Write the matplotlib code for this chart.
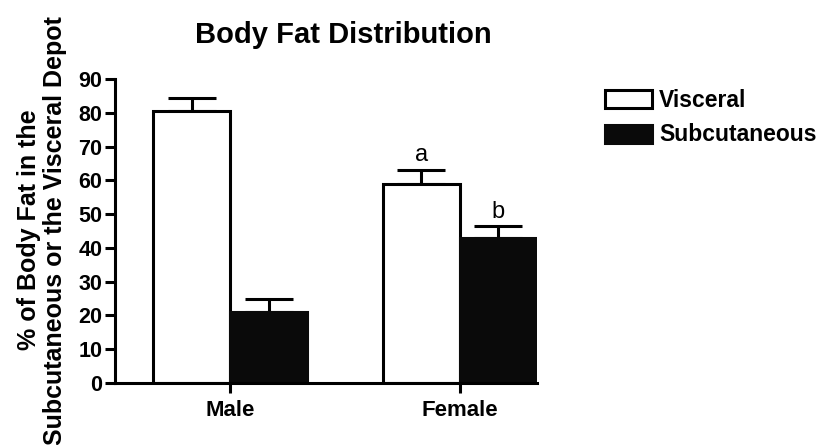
import matplotlib
matplotlib.use("Agg")
import matplotlib.pyplot as plt
from matplotlib.patches import Patch
import numpy as np

plt.rcParams['font.family'] = ['Liberation Sans', 'DejaVu Sans']

groups = ["Male", "Female"]
series = ["Visceral", "Subcutaneous"]
visceral = [80.6, 58.8]
visceral_err = [3.8, 4.4]
subcut = [21.1, 43.0]
subcut_err = [3.8, 3.5]
letters_visceral = ["", "a"]
letters_subcut = ["", "b"]

fig = plt.figure(figsize=(8.3, 4.45), dpi=100)
ax = fig.add_axes([0.1386, 0.1393, 0.647 - 0.1386, 0.8225 - 0.1393])

x = np.arange(len(groups))
w = 0.336
lw = 2.2

ax.bar(x - w / 2, visceral, w, color="white", edgecolor="black", linewidth=lw, zorder=2)
ax.bar(x + w / 2, subcut, w, color="#0a0a0a", edgecolor="#0a0a0a", linewidth=lw, zorder=2)
ax.errorbar(x - w / 2, visceral, yerr=[np.zeros(2), visceral_err], fmt="none",
            ecolor="black", elinewidth=lw, capsize=17.5, capthick=lw, zorder=1)
ax.errorbar(x + w / 2, subcut, yerr=[np.zeros(2), subcut_err], fmt="none",
            ecolor="black", elinewidth=lw, capsize=17.5, capthick=lw, zorder=1)

for i in range(len(groups)):
    if letters_visceral[i]:
        ax.text(x[i] - w / 2, visceral[i] + visceral_err[i] + 1.0, letters_visceral[i],
                ha="center", va="bottom", fontsize=17)
    if letters_subcut[i]:
        ax.text(x[i] + w / 2, subcut[i] + subcut_err[i] + 1.0, letters_subcut[i],
                ha="center", va="bottom", fontsize=17)

ax.set_xlim(-0.502, 1.336)
ax.set_ylim(0, 90)
ax.set_yticks(np.arange(0, 91, 10))
ax.set_xticks(x)
ax.set_xticklabels(groups, fontsize=16, fontweight="bold")
for lab in ax.get_yticklabels():
    lab.set_fontsize(15.5)
    lab.set_fontweight("bold")
ax.tick_params(axis="both", width=lw, length=7, pad=2)
ax.tick_params(axis="x", pad=5)
for s in ["top", "right"]:
    ax.spines[s].set_visible(False)
for s in ["left", "bottom"]:
    ax.spines[s].set_linewidth(lw)

ax.set_title("Body Fat Distribution", fontsize=21, fontweight="bold", x=0.54, pad=26)

fig.text(0.0345, 0.483, "% of Body Fat in the", rotation=90, ha="center", va="center",
         fontsize=18, fontweight="bold")
fig.text(0.0665, 0.483, "Subcutaneous or the Visceral Depot", rotation=90, ha="center",
         va="center", fontsize=18, fontweight="bold")

handles = [Patch(facecolor="white", edgecolor="black", linewidth=lw),
           Patch(facecolor="#0a0a0a", edgecolor="#0a0a0a", linewidth=lw)]
fig.legend(handles, series, loc="upper left", bbox_to_anchor=(0.729, 0.80),
           frameon=False, prop={"weight": "bold", "size": 16.5},
           handlelength=2.05, handleheight=0.83, handletextpad=0.3, labelspacing=0.5,
           borderpad=0, borderaxespad=0)

fig.savefig("out.png", dpi=100)
